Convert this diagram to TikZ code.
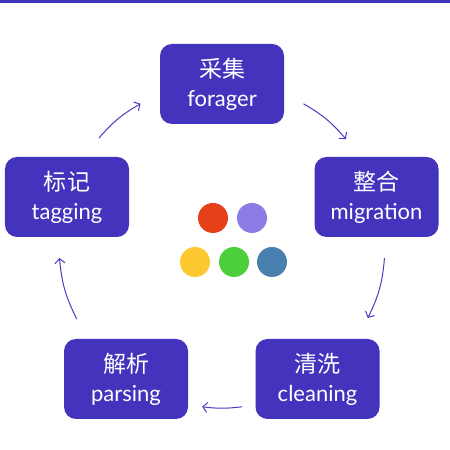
\documentclass[tikz,border=0pt]{standalone}
\usepackage{fontspec}
\setmainfont{Lato}
\newfontfamily\cjk{Noto Sans CJK SC}
\usetikzlibrary{arrows.meta,calc}
\definecolor{nodepurple}{HTML}{4433BD}
\definecolor{arrowpurple}{HTML}{4A3CC4}
\definecolor{cred}{HTML}{E6401A}
\definecolor{clav}{HTML}{8B7CE6}
\definecolor{cyel}{HTML}{FDC830}
\definecolor{cgrn}{HTML}{4CCF3A}
\definecolor{cblu}{HTML}{4A80B0}
\tikzset{
  stagebox/.style={draw=none, fill=nodepurple, rounded corners=12bp, minimum width=124bp, minimum height=80bp, inner sep=0pt, text=white, align=center, font=\fontsize{22bp}{29bp}\selectfont},
  cyclearrow/.style={draw=arrowpurple, line width=1bp, -{Straight Barb[length=4.5bp,width=10bp,line width=1bp]}},
  dot/.style={circle, minimum size=30bp, inner sep=0pt, draw=none}
}
\newcommand{\zh}[1]{{\cjk\fontsize{23bp}{29bp}\selectfont #1}}
\begin{document}
\begin{tikzpicture}[x=1bp,y=1bp]
\useasboundingbox (0,0) rectangle (450,450);
\fill[white] (0,0) rectangle (450,450);
\fill[nodepurple] (0,447.3) rectangle (450,450);
\node[stagebox] (collect) at (222,366) {\zh{采集}\\forager};
\node[stagebox] (merge) at (376.5,253) {\zh{整合}\\migration};
\node[stagebox] (clean) at (317.5,71) {\zh{清洗}\\cleaning};
\node[stagebox] (parse) at (126,71) {\zh{解析}\\parsing};
\node[stagebox] (tag) at (67,253) {\zh{标记}\\tagging};
\coordinate (ctr) at (222,205);
\coordinate (s1) at ($(ctr)+(139:163)$);
\coordinate (e1) at ($(ctr)+(120:163)$);
\coordinate (s2) at ($(ctr)+(60:163)$);
\coordinate (e2) at ($(ctr)+(40.5:163)$);
\coordinate (s3) at ($(ctr)+(-4.6:163)$);
\coordinate (e3) at ($(ctr)+(-26.6:163)$);
\coordinate (s4) at ($(ctr)+(-83:163)$);
\coordinate (e4) at ($(ctr)+(-97:163)$);
\coordinate (s5) at ($(ctr)+(-153:163)$);
\coordinate (e5) at ($(ctr)+(-175.4:163)$);
\draw[cyclearrow] (s1) to[bend left=10] (e1);
\draw[cyclearrow] (s2) to[bend left=10] (e2);
\draw[cyclearrow] (s3) to[bend left=11] (e3);
\draw[cyclearrow] (s4) to[bend left=7] (e4);
\draw[cyclearrow] (s5) to[bend left=11] (e5);
\node[dot, fill=cred] (dred) at (213,232) {};
\node[dot, fill=clav] (dlav) at (252,232) {};
\node[dot, fill=cyel] (dyel) at (195,188) {};
\node[dot, fill=cgrn] (dgrn) at (234,188) {};
\node[dot, fill=cblu] (dblu) at (272,188) {};
\end{tikzpicture}
\end{document}
